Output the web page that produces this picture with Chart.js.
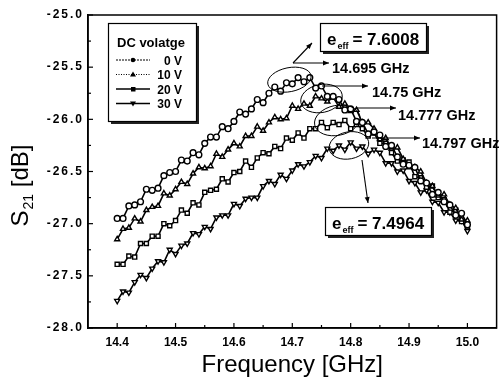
<!DOCTYPE html>
<html><head><meta charset="utf-8">
<script src="https://cdn.jsdelivr.net/npm/chart.js@4.4.0/dist/chart.umd.min.js"></script>
<style>html,body{margin:0;padding:0;background:#fff;}#wrap{width:502px;height:379px;}</style>
</head><body><div id="wrap"><canvas id="c" width="502" height="379"></canvas></div>
<script>
const freq = [14.40,14.41,14.42,14.43,14.44,14.45,14.46,14.47,14.48,14.49,14.50,14.51,14.52,14.53,14.54,14.55,14.56,14.57,14.58,14.59,14.60,14.61,14.62,14.63,14.64,14.65,14.66,14.67,14.68,14.69,14.70,14.71,14.72,14.73,14.74,14.75,14.76,14.77,14.78,14.79,14.80,14.81,14.82,14.83,14.84,14.85,14.86,14.87,14.88,14.89,14.90,14.91,14.92,14.93,14.94,14.95,14.96,14.97,14.98,14.99,15.00];
const s0V = [-26.95,-26.95,-26.83,-26.82,-26.79,-26.67,-26.68,-26.66,-26.54,-26.51,-26.50,-26.39,-26.40,-26.32,-26.34,-26.23,-26.17,-26.17,-26.07,-26.09,-26.02,-25.93,-25.95,-25.90,-25.81,-25.84,-25.75,-25.69,-25.73,-25.65,-25.66,-25.60,-25.64,-25.60,-25.70,-25.68,-25.78,-25.78,-25.81,-25.91,-25.90,-26.02,-26.03,-26.14,-26.12,-26.15,-26.26,-26.25,-26.36,-26.43,-26.44,-26.46,-26.59,-26.61,-26.72,-26.70,-26.79,-26.82,-26.92,-26.90,-27.01];
const s10V = [-27.15,-27.05,-27.04,-26.95,-26.98,-26.87,-26.84,-26.83,-26.71,-26.73,-26.67,-26.60,-26.62,-26.52,-26.46,-26.47,-26.45,-26.33,-26.36,-26.29,-26.23,-26.26,-26.16,-26.16,-26.07,-26.11,-26.03,-25.98,-26.00,-25.99,-25.87,-25.90,-25.85,-25.87,-25.78,-25.80,-25.83,-25.79,-25.88,-25.85,-25.92,-25.91,-26.03,-26.03,-26.09,-26.19,-26.18,-26.28,-26.27,-26.38,-26.46,-26.46,-26.50,-26.61,-26.64,-26.73,-26.72,-26.82,-26.85,-26.96,-26.97];
const s20V = [-27.39,-27.39,-27.31,-27.32,-27.19,-27.19,-27.12,-27.12,-27.00,-27.02,-26.97,-26.87,-26.90,-26.80,-26.82,-26.70,-26.68,-26.67,-26.57,-26.60,-26.51,-26.50,-26.40,-26.46,-26.37,-26.32,-26.33,-26.26,-26.28,-26.18,-26.20,-26.13,-26.18,-26.09,-26.09,-26.03,-26.08,-26.03,-26.05,-26.01,-26.09,-26.05,-26.09,-26.16,-26.13,-26.23,-26.23,-26.32,-26.40,-26.39,-26.41,-26.55,-26.56,-26.65,-26.64,-26.75,-26.77,-26.89,-26.87,-26.98,-27.03];
const s30V = [-27.74,-27.65,-27.66,-27.56,-27.49,-27.52,-27.43,-27.36,-27.37,-27.25,-27.29,-27.21,-27.19,-27.09,-27.10,-27.03,-27.05,-26.94,-26.92,-26.92,-26.81,-26.83,-26.76,-26.75,-26.75,-26.64,-26.59,-26.62,-26.53,-26.57,-26.49,-26.43,-26.45,-26.41,-26.35,-26.37,-26.28,-26.30,-26.25,-26.29,-26.22,-26.28,-26.26,-26.33,-26.29,-26.32,-26.42,-26.42,-26.50,-26.49,-26.59,-26.61,-26.70,-26.68,-26.79,-26.80,-26.89,-26.89,-26.97,-26.97,-27.07];
const seriesLabels = ['0 V','10 V','20 V','30 V'];
const xTicks = [14.4,14.5,14.6,14.7,14.8,14.9,15.0];
const yTicks = [-28.0,-27.5,-27.0,-26.5,-26.0,-25.5,-25.0];
const peakFreqs = [14.695,14.75,14.777,14.797];
const peakDb = [-25.62,-25.80,-26.01,-26.25];
const peakLabels = ['14.695 GHz','14.75 GHz','14.777 GHz','14.797 GHz'];
const effValues = ['7.6008','7.4964'];
const legendTitle = 'DC volatge';
const xTitle = 'Frequency [GHz]';

const styles = [
  {pointStyle:'circle', rotation:0, dash:[2,1]},
  {pointStyle:'triangle', rotation:0, dash:[1,1.5]},
  {pointStyle:'rect', rotation:0, dash:[]},
  {pointStyle:'triangle', rotation:180, dash:[]}
];
const seriesData = [s0V,s10V,s20V,s30V];
const FONT = '"Liberation Sans", Arial, sans-serif';

const datasets = seriesData.map((arr,i)=>({
  label: seriesLabels[i],
  data: freq.map((f,j)=>({x:f,y:arr[j]})),
  borderColor:'#000', borderWidth:1.6,
  pointStyle: styles[i].pointStyle, pointRotation: styles[i].rotation,
  pointRadius:2.9, pointBorderWidth:1.4, pointBorderColor:'#000', pointBackgroundColor:'#fff',
  tension:0, fill:false
}));

function arrow(ctx,x1,y1,x2,y2){
  ctx.beginPath();ctx.moveTo(x1,y1);ctx.lineTo(x2,y2);ctx.stroke();
  const a=Math.atan2(y2-y1,x2-x1), L=6, W=2.5;
  ctx.beginPath();
  ctx.moveTo(x2,y2);
  ctx.lineTo(x2-L*Math.cos(a)+W*Math.sin(a), y2-L*Math.sin(a)-W*Math.cos(a));
  ctx.lineTo(x2-L*Math.cos(a)-W*Math.sin(a), y2-L*Math.sin(a)+W*Math.cos(a));
  ctx.closePath();ctx.fill();
}
function shadowBox(ctx,x,y,w,h){
  ctx.fillStyle='#222';ctx.fillRect(x+3,y+3,w,h);
  ctx.fillStyle='#fff';ctx.fillRect(x,y,w,h);
  ctx.strokeStyle='#000';ctx.lineWidth=1.2;ctx.strokeRect(x+0.5,y+0.5,w,h);
}
function effText(ctx,x,y,val){
  ctx.fillStyle='#000';ctx.textAlign='left';ctx.textBaseline='alphabetic';
  ctx.font='bold 17px '+FONT; ctx.fillText('e',x,y); let w=ctx.measureText('e').width;
  ctx.font='bold 9px '+FONT; ctx.fillText('eff',x+w+1,y+4); let w2=ctx.measureText('eff').width;
  ctx.font='bold 17px '+FONT; ctx.fillText('= '+val,x+w+w2+5,y);
}
function spacedRight(ctx,txt,xr,y,sp){
  const ws=[...txt].map(c=>ctx.measureText(c).width);
  const tot=ws.reduce((s,v)=>s+v,0)+sp*(txt.length-1);
  let x=xr-tot;
  [...txt].forEach((c,i)=>{ctx.fillText(c,x,y);x+=ws[i]+sp;});
}

const deco = {
  id:'deco',
  afterDraw(chart){
    const ctx=chart.ctx, a=chart.chartArea, xs=chart.scales.x, ys=chart.scales.y;
    ctx.save();
    // frame
    ctx.strokeStyle='#000';ctx.lineWidth=1.5;
    ctx.strokeRect(a.left,a.top,a.right-a.left,a.bottom-a.top);
    // ticks
    ctx.lineWidth=1.2;
    xTicks.forEach((t,i)=>{
      const px=xs.getPixelForValue(t);
      ctx.beginPath();ctx.moveTo(px,a.bottom);ctx.lineTo(px,a.bottom-5);ctx.stroke();
      if(i<xTicks.length-1){const m=xs.getPixelForValue((t+xTicks[i+1])/2);
        ctx.beginPath();ctx.moveTo(m,a.bottom);ctx.lineTo(m,a.bottom-3);ctx.stroke();}
    });
    ctx.fillStyle='#000';ctx.font='bold 12px '+FONT;ctx.textAlign='left';ctx.textBaseline='middle';
    yTicks.forEach((t,i)=>{
      const py=ys.getPixelForValue(t);
      ctx.beginPath();ctx.moveTo(a.left,py);ctx.lineTo(a.left+5,py);ctx.stroke();
      if(i<yTicks.length-1){const m=ys.getPixelForValue((t+yTicks[i+1])/2);
        ctx.beginPath();ctx.moveTo(a.left,m);ctx.lineTo(a.left+3,m);ctx.stroke();}
      spacedRight(ctx,t.toFixed(1),82,py,2);
    });
    ctx.textBaseline='alphabetic';
    // axis titles
    ctx.fillStyle='#000';
    ctx.font='24px '+FONT;ctx.textAlign='center';
    ctx.fillText(xTitle,(a.left+a.right)/2,372);
    ctx.save();ctx.translate(28,(a.top+a.bottom)/2+14);ctx.rotate(-Math.PI/2);
    ctx.textAlign='left';
    ctx.font='24px '+FONT;const wS=ctx.measureText('S').width;
    ctx.font='14px '+FONT;const w21=ctx.measureText('21').width;
    ctx.font='24px '+FONT;const wR=ctx.measureText(' [dB]').width;
    let x0=-(wS+w21+1+wR)/2;
    ctx.fillText('S',x0,0);
    ctx.font='14px '+FONT;ctx.fillText('21',x0+wS+1,5);
    ctx.font='24px '+FONT;ctx.fillText(' [dB]',x0+wS+w21+1,0);
    ctx.restore();
    // legend
    shadowBox(ctx,108,23,88,98);
    ctx.fillStyle='#000';ctx.font='bold 13px '+FONT;ctx.textAlign='left';
    ctx.fillText(legendTitle,117,47);
    seriesLabels.forEach((lab,i)=>{
      const yy=60+i*14.5;
      ctx.strokeStyle='#000';ctx.lineWidth=i<2?1:1.5;ctx.setLineDash(styles[i].dash);
      ctx.beginPath();ctx.moveTo(116,yy);ctx.lineTo(150,yy);ctx.stroke();ctx.setLineDash([]);
      ctx.fillStyle='#000';
      ctx.beginPath();
      if(i===0){ctx.arc(133,yy,2.3,0,Math.PI*2);}
      else if(i===1){ctx.moveTo(133,yy-3);ctx.lineTo(136,yy+2);ctx.lineTo(130,yy+2);ctx.closePath();}
      else if(i===2){ctx.rect(131,yy-2,4.5,4.5);}
      else {ctx.moveTo(133,yy+3);ctx.lineTo(136,yy-2);ctx.lineTo(130,yy-2);ctx.closePath();}
      ctx.fill();
      ctx.font='bold 12px '+FONT;ctx.textAlign='right';ctx.fillText(lab,182,yy+4.5);
    });
    // ellipses
    const radii=[[22,12],[21,14],[23,15],[20,13.5]];
    ctx.strokeStyle='#000';ctx.lineWidth=1;
    peakFreqs.forEach((f,i)=>{
      ctx.beginPath();
      ctx.ellipse(xs.getPixelForValue(f),ys.getPixelForValue(peakDb[i]),radii[i][0],radii[i][1],-0.2,0,Math.PI*2);
      ctx.stroke();
    });
    // arrows
    ctx.fillStyle='#000';ctx.lineWidth=1.1;
    arrow(ctx,293,63,312,43);
    arrow(ctx,293,63,329,63);
    arrow(ctx,322,86,368,86);
    arrow(ctx,356,108,396,108);
    arrow(ctx,372,138,420,138);
    arrow(ctx,362,160,368,203);
    // peak labels
    ctx.font='bold 14.5px '+FONT;ctx.textAlign='left';ctx.fillStyle='#000';
    const lp=[[332,73],[372,97],[398,120],[422,148]];
    peakLabels.forEach((t,i)=>ctx.fillText(t,lp[i][0],lp[i][1]));
    // eff boxes
    shadowBox(ctx,320,23,106,28);
    effText(ctx,327,45,effValues[0]);
    shadowBox(ctx,325,207,106,28);
    effText(ctx,332,229,effValues[1]);
    ctx.restore();
  }
};

new Chart(document.getElementById('c'),{
  type:'line',
  data:{datasets},
  options:{
    responsive:false, animation:false, devicePixelRatio:1,
    layout:{padding:{top:15,right:1,left:0,bottom:0}},
    plugins:{legend:{display:false},tooltip:{enabled:false},title:{display:false}},
    scales:{
      x:{type:'linear',min:14.35,max:15.05,
        afterBuildTicks:s=>{s.ticks=xTicks.map(v=>({value:v}));},
        afterFit:s=>{s.height=51;},
        grid:{display:false,drawTicks:false},border:{display:true,color:'#000',width:1.5},
        ticks:{padding:7,color:'#000',font:{family:FONT,size:12,weight:'bold'},callback:v=>v.toFixed(1),maxRotation:0,autoSkip:false}},
      y:{type:'linear',min:-28,max:-25,
        afterBuildTicks:s=>{s.ticks=yTicks.map(v=>({value:v}));},
        afterFit:s=>{s.width=88;},
        grid:{display:false,drawTicks:false},border:{display:true,color:'#000',width:1.5},
        ticks:{display:false}}
    }
  },
  plugins:[deco]
});
</script></body></html>
